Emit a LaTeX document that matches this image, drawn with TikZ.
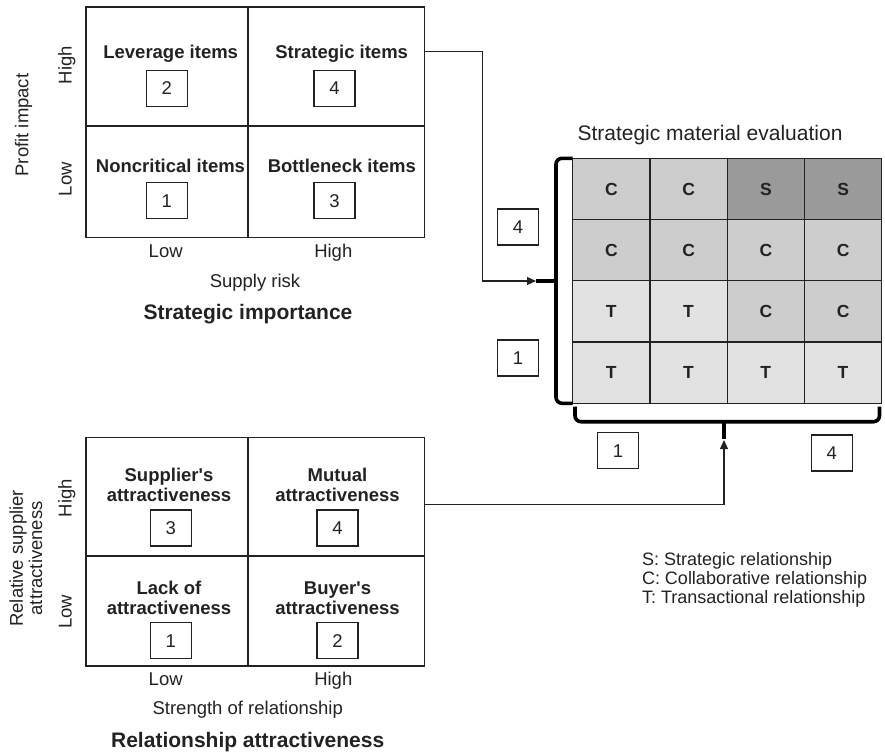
\documentclass[tikz,border=0pt]{standalone}
\usepackage{fontspec}
\setmainfont{Liberation Sans}
\usetikzlibrary{arrows.meta}

\definecolor{ink}{HTML}{222222}
\definecolor{cellC}{HTML}{CDCDCD}
\definecolor{cellS}{HTML}{9A9A9A}
\definecolor{cellT}{HTML}{E2E2E2}

\tikzset{
  every node/.style={inner sep=0pt, outer sep=0pt},
  lbl/.style={font=\fontsize{18.5}{20}\selectfont, text height=13.3pt, text depth=0pt, text=ink},
  blbl/.style={lbl, font=\bfseries\fontsize{18.5}{20}\selectfont},
  ttl/.style={font=\bfseries\fontsize{21}{24}\selectfont, text height=15pt, text depth=0pt, text=ink},
  quad/.style={draw=ink, line width=1.6pt},
  numbox/.style={lbl, draw=ink, line width=1.2pt, minimum width=41pt, minimum height=36pt},
  gcell/.style={draw=ink, line width=1.3pt, minimum width=77.25pt, minimum height=61.25pt,
    font=\bfseries\fontsize{17.5}{20}\selectfont, text height=12.5pt, text depth=0pt, text=ink},
  conn/.style={draw=ink, line width=1.2pt, -{Triangle[length=9pt,width=8pt]}},
  brace/.style={draw=black, line width=3.6pt},
}

\begin{document}
\begin{tikzpicture}[x=1pt, y=-1pt]
\useasboundingbox (0,0) rectangle (885,752);

% ---- strategic importance matrix ----
\node[quad, minimum width=162pt, minimum height=118.4pt] (lev) at (166.7,66.5) {};
\node[quad, minimum width=176.6pt, minimum height=118.4pt] (str) at (336,66.5) {};
\node[quad, minimum width=162pt, minimum height=111.6pt] (non) at (166.7,181.5) {};
\node[quad, minimum width=176.6pt, minimum height=111.6pt] (bot) at (336,181.5) {};

\node[blbl] (tLev) at (170.7,51.7) {Leverage items};
\node[numbox] (b2) at (166.7,88.2) {2};
\node[blbl] (tStr) at (341.7,51.7) {Strategic items};
\node[numbox] (b4) at (334.5,88.2) {4};
\node[blbl] (tNon) at (170.5,165.7) {Noncritical items};
\node[numbox] (b1) at (166.7,200.8) {1};
\node[blbl] (tBot) at (341.8,165.7) {Bottleneck items};
\node[numbox] (b3) at (334.5,200.8) {3};

\node[lbl] (sxl) at (165.7,250.7) {Low};
\node[lbl] (sxh) at (333.3,250.7) {High};
\node[lbl] (sxa) at (255,281) {Supply risk};
\node[ttl] (stt) at (248,312.3) {Strategic importance};
\node[lbl, rotate=90] (syh) at (65,65) {High};
\node[lbl, rotate=90] (syl) at (65,179.3) {Low};
\node[lbl, rotate=90] (sya) at (21.7,125) {Profit impact};

% ---- relationship attractiveness matrix ----
\node[quad, minimum width=162pt, minimum height=118.4pt] (sup) at (166.7,496.5) {};
\node[quad, minimum width=176.6pt, minimum height=118.4pt] (mut) at (336,496.5) {};
\node[quad, minimum width=162pt, minimum height=110pt] (lack) at (166.7,610.7) {};
\node[quad, minimum width=176.6pt, minimum height=110pt] (buy) at (336,610.7) {};

\node[blbl] (tSupA) at (169,475) {Supplier\textquotesingle s};
\node[blbl] (tSupB) at (169,495) {attractiveness};
\node[numbox] (r3) at (170.7,528) {3};
\node[blbl] (tMutA) at (337.5,475) {Mutual};
\node[blbl] (tMutB) at (337.5,495) {attractiveness};
\node[numbox] (r4) at (337.5,528) {4};
\node[blbl] (tLackA) at (169,588.3) {Lack of};
\node[blbl] (tLackB) at (169,608.3) {attractiveness};
\node[numbox] (r1) at (170.7,640.5) {1};
\node[blbl] (tBuyA) at (337.5,588.3) {Buyer\textquotesingle s};
\node[blbl] (tBuyB) at (337.5,608.3) {attractiveness};
\node[numbox] (r2) at (337.5,640.5) {2};

\node[lbl] (rxl) at (165.7,679) {Low};
\node[lbl] (rxh) at (333.3,679) {High};
\node[lbl] (rxa) at (247.7,708.3) {Strength of relationship};
\node[ttl] (rtt) at (247.7,740) {Relationship attractiveness};
\node[lbl, rotate=90] (ryh) at (65,498.3) {High};
\node[lbl, rotate=90] (ryl) at (65,611.7) {Low};
\node[lbl, rotate=90] (ryaA) at (16.2,558.3) {Relative supplier};
\node[lbl, rotate=90] (ryaB) at (35.5,558.3) {attractiveness};

% ---- strategic material evaluation grid ----
\node[font=\fontsize{21}{24}\selectfont, text height=15pt, text depth=0pt, text=ink] (gtt) at (710,133.3) {Strategic material evaluation};
\foreach \row [count=\i] in {{C,C,S,S},{C,C,C,C},{T,T,C,C},{T,T,T,T}} {
  \foreach \l [count=\j] in \row {
    \node[gcell, fill=cell\l] (g\i\j) at ({572.7+(\j-0.5)*77.25},{158.3+(\i-0.5)*61.25}) {\l};
  }
}

% braces along the grid
\coordinate (lbTip) at (536,281);
\coordinate (bbTip) at (724,438.5);
\draw[brace, rounded corners=6pt] (g11.north west) -- (556,158.3) -- (556,403.3) -- (g41.south west);
\draw[brace] (556,281) -- (lbTip);
\draw[brace, rounded corners=6pt] (575,406.5) -- (575,421.7) -- (879.5,421.7) -- (879.5,406.5);
\draw[brace] (724,421.7) -- (bbTip);

% scale boxes
\node[numbox] (v4) at (518,226.9) {4};
\node[numbox] (v1) at (518,357.9) {1};
\node[numbox] (h1) at (618,450.7) {1};
\node[numbox] (h4) at (831.7,453) {4};

% connectors
\draw[conn] (tStr -| str.east) -- ++(58,0) |- (lbTip);
\draw[conn] ([yshift=-8pt]mut.east) -| ([yshift=-1.5pt]bbTip);

% legend
\node[lbl, font=\fontsize{18}{20}\selectfont, anchor=west] (kS) at (642,559) {S: Strategic relationship};
\node[lbl, font=\fontsize{18}{20}\selectfont, anchor=west] (kC) at (642,578) {C: Collaborative relationship};
\node[lbl, font=\fontsize{18}{20}\selectfont, anchor=west] (kT) at (642,597) {T: Transactional relationship};
\end{tikzpicture}
\end{document}
